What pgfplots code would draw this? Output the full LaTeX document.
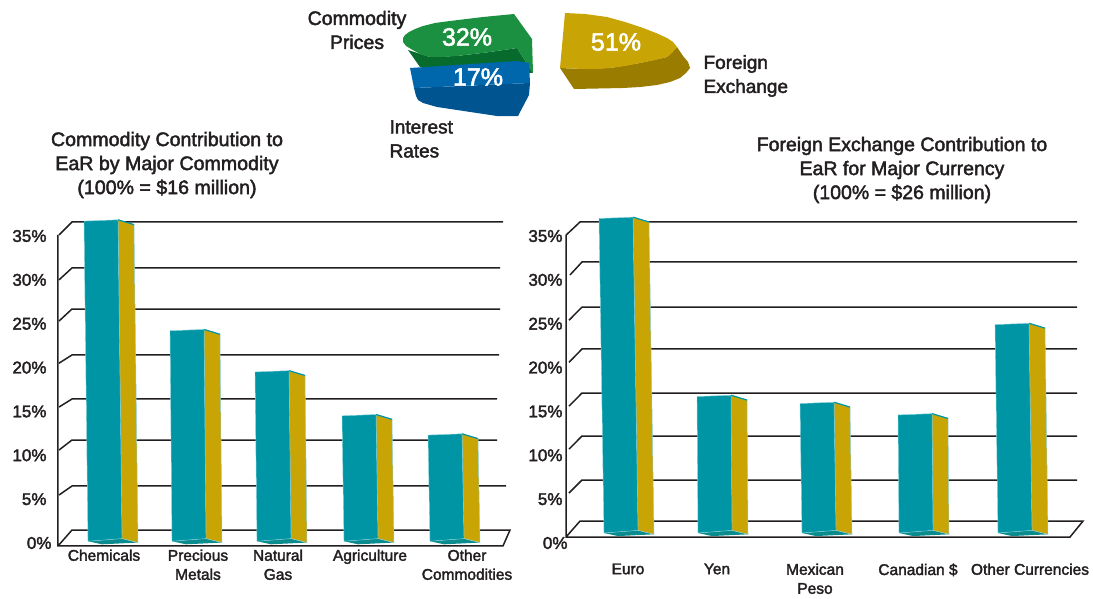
\documentclass[border=0pt]{standalone}
\usepackage{pgfplots}
\usepackage{fontspec}
\pgfplotsset{compat=1.18}
\setmainfont{Liberation Sans}[FakeBold=2.2]
\definecolor{tealF}{HTML}{0095A4}
\definecolor{tealE}{HTML}{8AD4DC}
\definecolor{tealB}{HTML}{0A8C8E}
\definecolor{goldS}{HTML}{C8A405}
\definecolor{goldD}{HTML}{9A7C00}
\definecolor{greenT}{HTML}{1B9040}
\definecolor{greenD}{HTML}{076B2E}
\definecolor{blueT}{HTML}{0067AC}
\definecolor{blueD}{HTML}{005490}
\definecolor{ink}{HTML}{231F20}
% #1 bottom-left x, #2 top-left x, #3 value (top), #4 base value
\newcommand\TB[4]{%
  \pgfmathsetmacro\xa{#2+34}\pgfmathsetmacro\xb{#2+50}%
  \pgfmathsetmacro\xc{#1+34}\pgfmathsetmacro\xd{#1+50}\pgfmathsetmacro\xe{#1+14}%
  \pgfmathsetmacro\va{#3+0.15}\pgfmathsetmacro\vb{#3-0.4}%
  \pgfmathsetmacro\ba{#4+0.3}\pgfmathsetmacro\bb{#4-0.15}\pgfmathsetmacro\bc{#4-0.35}%
  \addplot[fill=tealB,draw=none] coordinates {(#1,#4)(\xc,\ba)(\xd,\bb)(\xe,\bc)(#1,#4)};
  \addplot[fill=goldS,draw=tealE,line width=0.5pt] coordinates {(\xa,\va)(\xb,\vb)(\xd,\bb)(\xc,\ba)(\xa,\va)};
  \addplot[draw=tealF,line width=1.2pt] coordinates {(\xa,\va)(\xb,\vb)};
  \addplot[fill=tealF,draw=tealE,line width=0.4pt] coordinates {(#1,#4)(#2,#3)(\xa,\va)(\xc,\ba)(#1,#4)};
}
\newcommand\GL[1]{\addplot[ink,line width=1.5pt] coordinates {#1};}
\pgfplotsset{barpanel/.style={
  scale only axis, clip=false, ymin=0, ymax=37.5, height=328.9pt,
  axis line style={draw=none}, major tick length=0pt,
  ytick={5,10,15,20,25,30,35},
  yticklabels={5\%,10\%,15\%,20\%,25\%,30\%,35\%},
  extra y ticks={0}, extra y tick labels={0\%},
  extra y tick style={y tick label style={xshift=5pt}},
  y tick label style={font=\fontsize{17}{17}\selectfont, text=ink},
  x tick label style={font=\fontsize{15.5}{19}\selectfont, text=ink, align=center},
  xtick pos=bottom, ytick pos=left,
}}
\begin{document}
\begin{tikzpicture}[x=1pt,y=1pt]
\path[use as bounding box] (0,0) rectangle (1093pt,598pt);
% ---------- left panel
\begin{axis}[barpanel, at={(50pt,55pt)}, anchor=south west, width=470pt, xmin=50, xmax=520,
  xtick={104,198,278,370,467},
  xticklabels={Chemicals,Precious\\Metals,Natural\\Gas,Agriculture,Other\\Commodities},
  x tick label style={yshift=-3pt}]
\GL{(59,35.12)(72,36.6)(503,36.6)}
\GL{(59,30)(72,31.36)(500,31.36)}
\GL{(59,25.3)(72,26.68)(500,26.68)}
\GL{(59,20.5)(72,21.44)(499,21.44)}
\GL{(59,15.5)(72,16.42)(497,16.42)}
\GL{(59,10.6)(72,11.74)(497,11.74)}
\GL{(59,5.47)(72,6.5)(506,6.5)}
\GL{(58,35.12)(58,-0.34)(503,-0.34)(510,1.48)(72,1.48)(58,-0.34)}
\TB{88}{84}{36.7}{0.2}
\TB{172}{170}{24.2}{0.2}
\TB{257}{255}{19.5}{0.2}
\TB{344}{342}{14.5}{0.2}
\TB{430}{428}{12.3}{0.2}
\end{axis}
% ---------- right panel
\begin{axis}[barpanel, at={(566pt,55pt)}, anchor=south west, width=525pt, xmin=566, xmax=1091,
  xtick={628,717,815,918,1030},
  xticklabels={\raisebox{3pt}{Euro},Yen,Mexican\\Peso,\raisebox{-1pt}{Canadian \$},\raisebox{-2pt}{Other Currencies}},
  x tick label style={yshift=-17pt}]
\GL{(566,35.1)(580,36.6)(1077,36.6)}
\GL{(570,30.56)(582,32.04)(1077,32.04)}
\GL{(569,25.4)(582,26.9)(1077,26.9)}
\GL{(569,20.6)(582,22.12)(1077,22.12)}
\GL{(569,15.6)(582,17.1)(1077,17.1)}
\GL{(569,10.7)(582,12.2)(1077,12.2)}
\GL{(569,5.7)(582,7.18)(1077,7.18)}
\GL{(566,35.1)(566,0.68)(1070,0.68)(1083,2.5)(580,2.5)(566,0.68)}
\TB{604}{599}{37.0}{1.14}
\TB{698}{697}{16.7}{1.14}
\TB{802}{800}{15.9}{1.14}
\TB{899}{898}{14.6}{1.14}
\TB{998}{995}{24.9}{1.14}
\end{axis}
% ---------- pie and texts, in picture pixels
\begin{axis}[scale only axis, at={(0pt,0pt)}, anchor=south west, width=1093pt, height=598pt,
  xmin=0, xmax=1093, ymin=0, ymax=598, y dir=reverse, hide axis, clip=false]
% green
\addplot[fill=greenD,draw=none] coordinates {(408,50)(430,57)(457,56)(490,52)(517,48)(533,73)(420,67)(408,50)};
\addplot[fill=greenT,draw=none] coordinates {(403,42)(403,38)(405,35)(409,32)(415,29)(423,26)(435,23)(450,21)(483,17)(514,14)(517,32)(517,48)(490,52)(457,56)(442,57)(430,57)(420,54)(411,49)(406,46)(403,42)};
\addplot[fill=greenT,draw=none] coordinates {(514,14)(532,39)(533,73)(517,48)(514,14)};
% blue
\addplot[fill=blueD,draw=none] coordinates {(414,88)(530,83)(529,95)(518,116)(497,116)(477,113)(457,110)(437,107)(423,103)(418,100)(416,96)(414,88)};
\addplot[fill=blueT,draw=none] coordinates {(410,68)(517,61)(529,63)(530,83)(414,88)(410,68)};
% gold
\addplot[fill=goldD,draw=none] coordinates {(560,68)(583,69)(610,68)(640,63)(667,57)(677,47)(683,56)(688,62)(690,68)(686,73)(680,78)(670,82)(657,85)(640,87)(623,88)(574,89)(560,68)};
\addplot[fill=goldS,draw=none] coordinates {(565,13)(585,14)(607,17)(625,22)(643,28)(656,33)(667,38)(673,42)(677,47)(672,53)(667,57)(655,60)(640,63)(625,66)(610,68)(597,69)(583,69)(560,68)(565,13)};
\node[text=white,font=\fontsize{25}{25}\selectfont] at (axis cs:467,37) {32\%};
\node[text=white,font=\fontsize{25}{25}\selectfont] at (axis cs:478,77) {17\%};
\node[text=white,font=\fontsize{25}{25}\selectfont] at (axis cs:616,42) {51\%};
\node[text=ink,font=\fontsize{19.5}{24}\selectfont,align=center] at (axis cs:357,30) {Commodity\\Prices};
\node[text=ink,font=\fontsize{19}{24}\selectfont,align=left,anchor=west] at (axis cs:700,76) {Foreign\\Exchange};
\node[text=ink,font=\fontsize{19}{24}\selectfont,align=left,anchor=west] at (axis cs:386,139) {Interest\\Rates};
\node[text=ink,font=\fontsize{19.6}{24}\selectfont,align=center] at (axis cs:167,165) {Commodity Contribution to\\EaR by Major Commodity\\(100\% = \$16 million)};
\node[text=ink,font=\fontsize{19.5}{24}\selectfont,align=center] at (axis cs:902,170) {Foreign Exchange Contribution to\\EaR for Major Currency\\(100\% = \$26 million)};
\end{axis}
\end{tikzpicture}
\end{document}
